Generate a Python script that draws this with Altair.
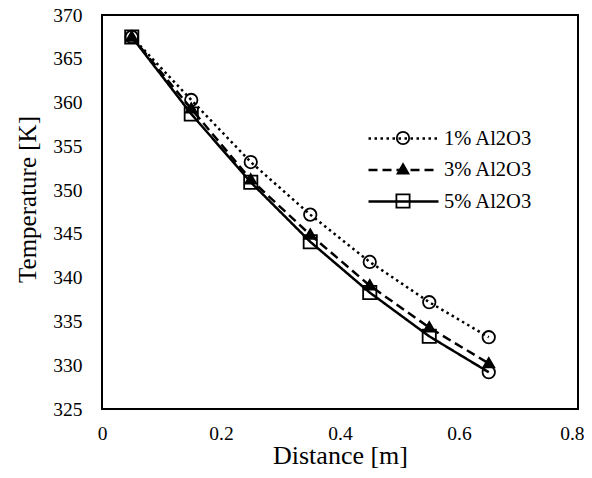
import altair as alt
import pandas as pd

# Data
distance = [0.05, 0.15, 0.25, 0.35, 0.45, 0.55, 0.65]
series_names = ["1% Al2O3", "3% Al2O3", "5% Al2O3"]
temp_1 = [367.5, 360.3, 353.2, 347.2, 341.8, 337.2, 333.2]
temp_3 = [367.5, 359.3, 351.2, 344.9, 339.1, 334.3, 330.2]
temp_5 = [367.5, 358.7, 350.9, 344.1, 338.3, 333.3, 329.2]
markers_1 = ["circle"] * 7
markers_3 = ["triangle"] * 7
markers_5 = ["square"] * 6 + ["circle"]

x_ticks = [0, 0.2, 0.4, 0.6, 0.8]
y_ticks = [325, 330, 335, 340, 345, 350, 355, 360, 365, 370]

rows = []
for name, temps, marks in zip(series_names, [temp_1, temp_3, temp_5], [markers_1, markers_3, markers_5]):
    for xv, tv, mv in zip(distance, temps, marks):
        rows.append({"x": xv, "t": tv, "series": name, "marker": mv, "order": xv})
df = pd.DataFrame(rows)

FONT = "Liberation Serif"
marker_domain = ["circle", "triangle", "square"]
marker_paths = [
    "M0.62,0A0.62,0.62 0 1,1 -0.62,0A0.62,0.62 0 1,1 0.62,0Z",
    "M0,-0.55L0.55,0.4L-0.55,0.4Z",
    "M-0.66,-0.66L0.66,-0.66L0.66,0.66L-0.66,0.66Z",
]
marker_fills = ["transparent", "black", "transparent"]
marker_strokes = ["black", "black", "black"]
dash_range = [[2.5, 3.5], [9, 5], [1, 0]]

last_tick = "datum.value >= 0.79"
x_enc = alt.X("x:Q", scale=alt.Scale(domain=[0, 0.8], nice=False),
              axis=alt.Axis(values=x_ticks, format="~g", title="Distance [m]", labelFlush=False,
                            labelAlign={"condition": {"test": last_tick, "value": "right"}, "value": "center"},
                            labelOffset={"condition": {"test": last_tick, "value": 6}, "value": 0}))
y_enc = alt.Y("t:Q", scale=alt.Scale(domain=[325, 370], nice=False, zero=False),
              axis=alt.Axis(values=y_ticks, title="Temperature [K]", titleY=184))

LEG_X = 290
LEG_Y = 112
ROW_PAD = 9.5
LAB_OFF = 29


def marker_legend():
    return alt.Legend(
        title=None, orient="none", legendX=LEG_X, legendY=LEG_Y,
        symbolSize=400, symbolStrokeWidth=1.8, symbolStrokeColor="black",
        labelExpr="''", labelFont=FONT, labelFontSize=20.5,
        labelOffset=LAB_OFF, rowPadding=ROW_PAD, padding=0,
    )


lines = alt.Chart(df).mark_line(color="black", strokeWidth=2.5).encode(
    x=x_enc,
    y=y_enc,
    order="order:Q",
    strokeDash=alt.StrokeDash(
        "series:N",
        scale=alt.Scale(domain=series_names, range=dash_range),
        legend=alt.Legend(
            title=None, orient="none", legendX=LEG_X, legendY=LEG_Y,
            symbolType="M-3.5,0L3.5,0", symbolSize=400, symbolStrokeWidth=2.5,
            symbolStrokeColor="black", symbolFillColor="transparent",
            labelFont=FONT, labelFontSize=20.5, labelColor="black",
            labelOffset=LAB_OFF, rowPadding=ROW_PAD, padding=0,
        ),
    ),
)

points = alt.Chart(df).mark_point(size=400, strokeWidth=1.8, opacity=1).encode(
    x=x_enc,
    y=y_enc,
    shape=alt.Shape("marker:N", scale=alt.Scale(domain=marker_domain, range=marker_paths),
                    legend=marker_legend()),
    fill=alt.Fill("marker:N", scale=alt.Scale(domain=marker_domain, range=marker_fills),
                  legend=marker_legend()),
    stroke=alt.Stroke("marker:N", scale=alt.Scale(domain=marker_domain, range=marker_strokes),
                      legend=marker_legend()),
)

chart = alt.layer(lines, points).properties(
    width=476,
    height=394,
    background="white",
    autosize=alt.AutoSizeParams(type="none"),
    padding={"left": 94, "top": 7, "right": 6, "bottom": 61},
).configure_view(
    stroke="black", strokeWidth=2,
).configure_axis(
    domain=False, ticks=False, grid=False,
    labelFont=FONT, labelFontSize=19.5, labelColor="black",
    titleFont=FONT, titleFontSize=26, titleFontWeight="normal", titleColor="black",
).configure_axisY(
    labelPadding=20, titlePadding=12, titleFontSize=25,
).configure_axisX(
    labelPadding=15, titlePadding=0,
)

chart.save("out.html", embed_options={"renderer": "svg", "actions": False})
